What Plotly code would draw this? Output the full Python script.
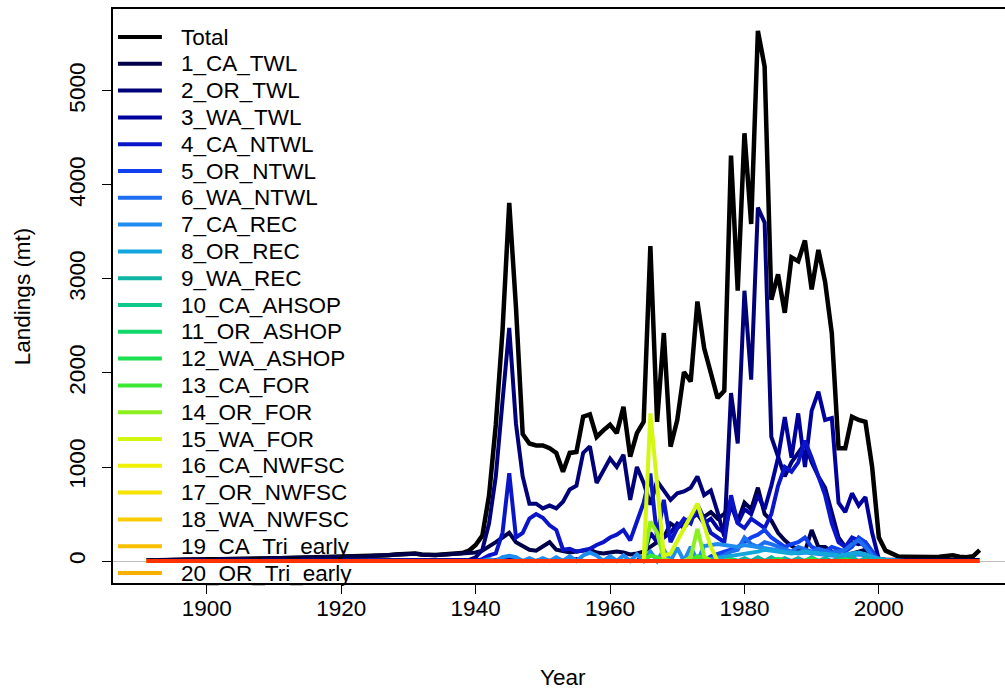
import plotly.graph_objects as go

years = list(range(1891, 2016))

def series(pts, default=0.0):
    """Build a yearly series from explicit (year: value) readings; years not listed take the default value."""
    return [float(pts.get(y, default)) for y in years]

# ---- Values (mt) ----
total_pts = {
    1891: 5, 1892: 8, 1893: 10, 1894: 12, 1895: 12, 1896: 14, 1897: 15, 1898: 15, 1899: 16,
    1900: 18, 1901: 18, 1902: 20, 1903: 20, 1904: 22, 1905: 22, 1906: 24, 1907: 25, 1908: 25, 1909: 26,
    1910: 28, 1911: 28, 1912: 30, 1913: 30, 1914: 32, 1915: 32, 1916: 34, 1917: 35, 1918: 36, 1919: 38,
    1920: 40, 1921: 42, 1922: 45, 1923: 48, 1924: 50, 1925: 55, 1926: 60, 1927: 62, 1928: 70, 1929: 75,
    1930: 85, 1931: 80, 1932: 70, 1933: 65, 1934: 65, 1935: 70, 1936: 75, 1937: 80, 1938: 85, 1939: 110,
    1940: 170, 1941: 270, 1942: 700, 1943: 1450, 1944: 2450, 1945: 3810, 1946: 2700, 1947: 1350,
    1948: 1250, 1949: 1230, 1950: 1230, 1951: 1200, 1952: 1150, 1953: 950, 1954: 1150, 1955: 1160,
    1956: 1535, 1957: 1560, 1958: 1320, 1959: 1390, 1960: 1450, 1961: 1360, 1962: 1640, 1963: 1110,
    1964: 1360, 1965: 1480, 1966: 3350, 1967: 1480, 1968: 2425, 1969: 1216, 1970: 1500, 1971: 2010,
    1972: 1910, 1973: 2760, 1974: 2265, 1975: 2000, 1976: 1733, 1977: 1811, 1978: 4313, 1979: 2875,
    1980: 4550, 1981: 3585, 1982: 5640, 1983: 5260, 1984: 2780, 1985: 3050, 1986: 2640, 1987: 3230,
    1988: 3190, 1989: 3410, 1990: 2890, 1991: 3310, 1992: 2970, 1993: 2420, 1994: 1200, 1995: 1200,
    1996: 1535, 1997: 1500, 1998: 1480, 1999: 1000, 2000: 250, 2001: 110, 2002: 75, 2003: 45, 2004: 45,
    2005: 42, 2006: 40, 2007: 40, 2008: 42, 2009: 45, 2010: 50, 2011: 60, 2012: 45, 2013: 40, 2014: 50,
    2015: 115,
}

ca_twl_pts = {
    1891: 5, 1892: 8, 1893: 10, 1894: 12, 1895: 12, 1896: 14, 1897: 15, 1898: 15, 1899: 16,
    1900: 18, 1901: 18, 1902: 20, 1903: 20, 1904: 22, 1905: 22, 1906: 24, 1907: 25, 1908: 25, 1909: 26,
    1910: 28, 1911: 28, 1912: 30, 1913: 30, 1914: 32, 1915: 32, 1916: 34, 1917: 35, 1918: 36, 1919: 38,
    1920: 40, 1921: 42, 1922: 45, 1923: 48, 1924: 50, 1925: 55, 1926: 60, 1927: 62, 1928: 68, 1929: 72,
    1930: 80, 1931: 76, 1932: 66, 1933: 62, 1934: 62, 1935: 66, 1936: 70, 1937: 75, 1938: 80, 1939: 85,
    1940: 90, 1941: 110, 1942: 150, 1943: 200, 1944: 250, 1945: 300, 1946: 200, 1947: 160, 1948: 120,
    1949: 110, 1950: 150, 1951: 200, 1952: 120, 1953: 100, 1954: 90, 1955: 100, 1956: 110, 1957: 120,
    1958: 90, 1959: 80, 1960: 90, 1961: 100, 1962: 90, 1963: 70, 1964: 80, 1965: 100, 1966: 150,
    1967: 200, 1968: 250, 1969: 400, 1970: 350, 1971: 420, 1972: 450, 1973: 520, 1974: 470, 1975: 520,
    1976: 450, 1977: 500, 1978: 650, 1979: 420, 1980: 620, 1981: 550, 1982: 780, 1983: 500, 1984: 430,
    1985: 300, 1986: 220, 1987: 160, 1988: 120, 1989: 100, 1990: 330, 1991: 150, 1992: 150, 1993: 100,
    1994: 70, 1995: 60, 1996: 80, 1997: 100, 1998: 120, 1999: 60, 2000: 20, 2001: 15, 2002: 12,
    2003: 10, 2004: 10, 2005: 10, 2006: 10, 2007: 10, 2008: 10, 2009: 10, 2010: 10, 2011: 10,
    2012: 10, 2013: 10, 2014: 10, 2015: 10,
}

or_twl_pts = {
    1939: 10, 1940: 40, 1941: 120, 1942: 400, 1943: 900, 1944: 1700, 1945: 2480, 1946: 1460,
    1947: 900, 1948: 610, 1949: 610, 1950: 560, 1951: 590, 1952: 560, 1953: 630, 1954: 760,
    1955: 800, 1956: 1150, 1957: 1220, 1958: 830, 1959: 950, 1960: 1090, 1961: 1000, 1962: 1130,
    1963: 650, 1964: 1000, 1965: 830, 1966: 600, 1967: 850, 1968: 750, 1969: 650, 1970: 720,
    1971: 740, 1972: 780, 1973: 900, 1974: 700, 1975: 750, 1976: 520, 1977: 260, 1978: 1787,
    1979: 1250, 1980: 2875, 1981: 1930, 1982: 3760, 1983: 3600, 1984: 1320, 1985: 1100, 1986: 900,
    1987: 1050, 1988: 1150, 1989: 1250, 1990: 1050, 1991: 900, 1992: 780, 1993: 500, 1994: 250,
    1995: 150, 1996: 200, 1997: 180, 1998: 200, 1999: 100, 2000: 10,
}

wa_twl_pts = {
    1943: 10, 1944: 20, 1945: 40, 1946: 30, 1950: 20, 1955: 20, 1960: 30, 1965: 50,
    1966: 300, 1967: 200, 1968: 250, 1969: 300, 1970: 400, 1971: 350, 1972: 450, 1973: 500,
    1974: 400, 1975: 450, 1976: 350, 1977: 300, 1978: 600, 1979: 400, 1980: 550, 1981: 500,
    1982: 700, 1983: 550, 1984: 800, 1985: 1100, 1986: 1530, 1987: 1100, 1988: 1570, 1989: 1000,
    1990: 1600, 1991: 1800, 1992: 1500, 1993: 1520, 1994: 620, 1995: 520, 1996: 720, 1997: 590,
    1998: 680, 1999: 300, 2000: 20,
}

ca_ntwl_pts = {
    1941: 20, 1942: 60, 1943: 80, 1944: 300, 1945: 935, 1946: 250, 1947: 300, 1948: 450, 1949: 500,
    1950: 460, 1951: 380, 1952: 330, 1953: 120, 1954: 130, 1955: 100, 1956: 120, 1957: 130,
    1958: 170, 1959: 200, 1960: 250, 1961: 280, 1962: 330, 1963: 220, 1964: 420, 1965: 620,
    1966: 930, 1967: 250, 1968: 650, 1969: 200, 1970: 350, 1971: 450, 1972: 400, 1973: 600,
    1974: 450, 1975: 300, 1976: 250, 1977: 200, 1978: 700, 1979: 400, 1980: 350, 1981: 450,
    1982: 400, 1983: 350, 1984: 500, 1985: 800, 1986: 1000, 1987: 950, 1988: 1050, 1989: 1280,
    1990: 1100, 1991: 900, 1992: 700, 1993: 400, 1994: 200, 1995: 150, 1996: 250, 1997: 220,
    1998: 150, 1999: 80, 2000: 0,
}

or_ntwl_pts = {
    1975: 50, 1976: 80, 1977: 100, 1978: 120, 1979: 150, 1980: 200, 1981: 250, 1982: 280,
    1983: 330, 1984: 250, 1985: 200, 1986: 150, 1987: 180, 1988: 200, 1989: 250, 1990: 150,
    1991: 120, 1992: 100, 1993: 150, 1994: 120, 1995: 100, 1996: 150, 1997: 250, 1998: 200,
    1999: 100, 2000: 5,
}

wa_ntwl_pts = {
    1976: 40, 1977: 60, 1978: 100, 1979: 120, 1980: 250, 1981: 180, 1982: 150, 1983: 200,
    1984: 180, 1985: 150, 1986: 120, 1987: 100, 1988: 150, 1989: 120, 1990: 100, 1991: 130,
    1992: 110, 1993: 90, 1994: 100, 1995: 120, 1996: 180, 1997: 220, 1998: 150, 1999: 60, 2000: 5,
}

ca_rec_pts = {
    1940: 10, 1942: 20, 1944: 40, 1945: 55, 1946: 40, 1948: 30, 1950: 30, 1952: 40, 1954: 50,
    1956: 60, 1957: 90, 1958: 60, 1960: 50, 1962: 60, 1964: 70, 1966: 100, 1968: 120, 1970: 140,
    1972: 150, 1974: 160, 1975: 170, 1976: 180, 1977: 170, 1978: 160, 1979: 150, 1980: 170,
    1981: 160, 1982: 150, 1983: 140, 1984: 130, 1985: 120, 1986: 100, 1987: 90, 1988: 80,
    1989: 90, 1990: 80, 1991: 70, 1992: 60, 1993: 60, 1994: 50, 1995: 50, 1996: 60, 1997: 70,
    1998: 60, 1999: 40, 2000: 20, 2001: 10, 2002: 10,
}

or_rec_pts = {
    1975: 20, 1976: 30, 1977: 40, 1978: 50, 1979: 60, 1980: 80, 1981: 90, 1982: 100, 1983: 120,
    1984: 110, 1985: 100, 1986: 90, 1987: 80, 1988: 90, 1989: 100, 1990: 90, 1991: 80, 1992: 70,
    1993: 60, 1994: 60, 1995: 70, 1996: 80, 1997: 90, 1998: 70, 1999: 40, 2000: 20, 2001: 10,
}

wa_rec_pts = {
    1975: 10, 1978: 20, 1980: 30, 1982: 40, 1984: 40, 1986: 30, 1988: 30, 1990: 40, 1992: 30,
    1994: 30, 1996: 40, 1998: 30, 2000: 10,
}

ca_ashop_pts = {1980: 10, 1985: 20, 1990: 20, 1995: 15}
or_ashop_pts = {1978: 10, 1985: 15, 1990: 20, 1995: 15}
wa_ashop_pts = {1978: 15, 1985: 20, 1990: 25, 1995: 20}
ca_for_pts = {1966: 60, 1967: 40, 1973: 50, 1974: 20}
or_for_pts = {1965: 0, 1966: 420, 1967: 300, 1968: 20, 1972: 40, 1973: 340, 1974: 50, 1975: 0}
wa_for_pts = {1965: 0, 1966: 1570, 1967: 780, 1968: 60, 1969: 80, 1970: 210, 1971: 340,
              1972: 470, 1973: 610, 1974: 380, 1975: 150, 1976: 0}
ca_nwfsc_pts = {}
or_nwfsc_pts = {}
wa_nwfsc_pts = {}
ca_tri_pts = {}
or_tri_pts = {}
wa_tri_pts = {}

series_names = [
    "1_CA_TWL", "2_OR_TWL", "3_WA_TWL", "4_CA_NTWL", "5_OR_NTWL", "6_WA_NTWL",
    "7_CA_REC", "8_OR_REC", "9_WA_REC", "10_CA_AHSOP", "11_OR_ASHOP", "12_WA_ASHOP",
    "13_CA_FOR", "14_OR_FOR", "15_WA_FOR", "16_CA_NWFSC", "17_OR_NWFSC", "18_WA_NWFSC",
    "19_CA_Tri_early", "20_OR_Tri_early", "21_WA_Tri_early",
]
series_values = [
    series(ca_twl_pts), series(or_twl_pts), series(wa_twl_pts), series(ca_ntwl_pts),
    series(or_ntwl_pts), series(wa_ntwl_pts), series(ca_rec_pts), series(or_rec_pts),
    series(wa_rec_pts), series(ca_ashop_pts), series(or_ashop_pts), series(wa_ashop_pts),
    series(ca_for_pts), series(or_for_pts), series(wa_for_pts), series(ca_nwfsc_pts),
    series(or_nwfsc_pts), series(wa_nwfsc_pts), series(ca_tri_pts), series(or_tri_pts),
    series(wa_tri_pts),
]
total_values = series(total_pts)

series_colors = [
    "#00004A", "#000078", "#00009C", "#0A14C8", "#1040F0", "#1E6EF0", "#1E8CF0", "#12A6DC",
    "#10B4A4", "#10C88A", "#12D86C", "#1CE050", "#3CE834", "#8CF01E", "#D2F812", "#F0F000",
    "#F8E200", "#F8CC00", "#F8C000", "#F8B000", "#FF3300",
]

x_ticks = [1900, 1920, 1940, 1960, 1980, 2000]
y_ticks = [0, 1000, 2000, 3000, 4000, 5000]

FONT = "Arial, Liberation Sans, sans-serif"
FS = 22.5

fig = go.Figure()
fig.add_trace(go.Scatter(x=years, y=total_values, mode="lines", name="Total",
                         line=dict(color="black", width=4.5), showlegend=False))
for name, vals, col in zip(series_names, series_values, series_colors):
    fig.add_trace(go.Scatter(x=years, y=vals, mode="lines", name=name,
                             line=dict(color=col, width=4), showlegend=False))

# Plot area geometry (pixels); the figure is a little wider than the window so
# that its right border falls just outside the view, as in the reference crop.
W, H = 1015, 690
L, T, B = 113, 9, 107
plot_w = W - L
plot_h = H - T - B

fig.update_layout(
    width=W, height=H,
    margin=dict(l=L, r=0, t=T, b=B),
    paper_bgcolor="white", plot_bgcolor="white",
    font=dict(family=FONT, size=FS, color="black"),
    showlegend=False,
)
fig.update_xaxes(
    range=[1886.04, 2019.96], tickvals=x_ticks, ticks="outside", ticklen=9, tickwidth=1.3,
    tickcolor="black", showgrid=False, zeroline=False, showline=True, linecolor="black",
    linewidth=1.5, mirror=True, tickfont=dict(size=FS), ticklabelstandoff=-5,
)
fig.update_yaxes(
    range=[-234, 5872], tickvals=y_ticks, ticks="outside", ticklen=9, tickwidth=1.3,
    tickcolor="black", showgrid=False, zeroline=True, zerolinecolor="#BEBEBE", zerolinewidth=1.2,
    showline=True, linecolor="black", linewidth=1.5, mirror=True, tickangle=-90,
    tickfont=dict(size=FS), ticklabelstandoff=8,
)

# Axis titles
fig.add_annotation(text="Year", xref="paper", yref="paper", x=0.5,
                   y=(H - B - 677) / plot_h, showarrow=False, font=dict(size=FS),
                   xanchor="center", yanchor="middle")
fig.add_annotation(text="Landings (mt)", xref="paper", yref="paper", x=(22 - L) / plot_w,
                   y=0.5, showarrow=False, font=dict(size=FS), textangle=-90,
                   xanchor="center", yanchor="middle")

# Legend (top-left, no box)
legend_names = ["Total"] + series_names[:20]
legend_colors = ["black"] + series_colors[:20]
for i, (nm, col) in enumerate(zip(legend_names, legend_colors)):
    ypx = 37 + 26.8 * i
    yp = (H - B - ypx) / plot_h
    fig.add_shape(type="line", xref="paper", yref="paper",
                  x0=(118 - L) / plot_w, x1=(162 - L) / plot_w, y0=yp, y1=yp,
                  line=dict(color=col, width=4))
    fig.add_annotation(text=nm, xref="paper", yref="paper", x=(179 - L) / plot_w, y=yp,
                       showarrow=False, font=dict(size=FS), xanchor="left", yanchor="middle")

fig.write_html(
    "out.html",
    config={"displayModeBar": False},
    post_script="document.body.style.margin='0';document.body.style.overflow='hidden';",
)
